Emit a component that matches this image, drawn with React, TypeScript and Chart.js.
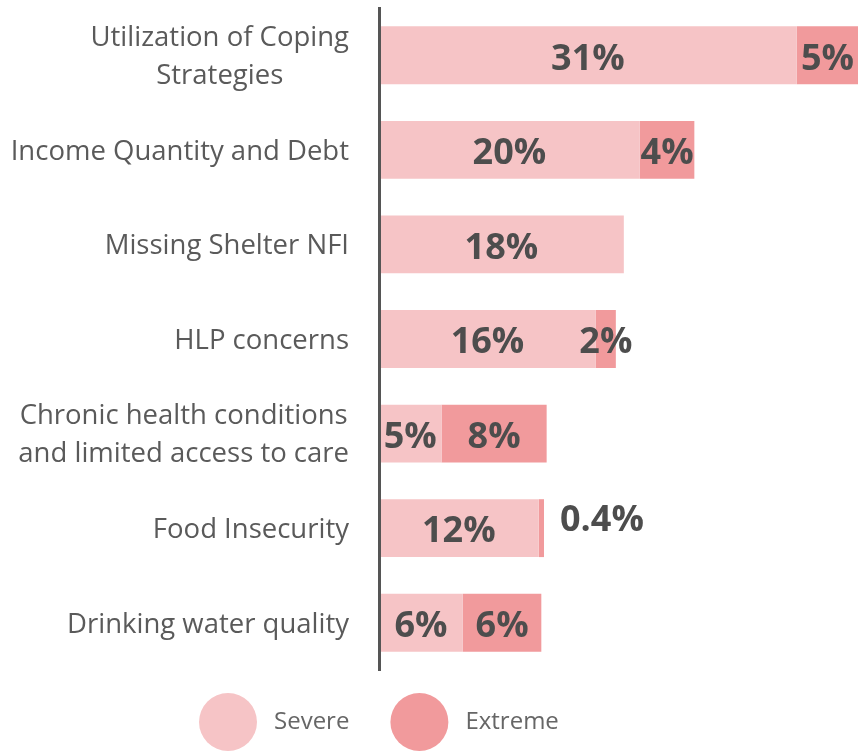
import React, { useEffect, useRef } from "react";
import { Chart, registerables } from "chart.js";

Chart.register(...registerables);

const categories: string[][] = [
  ["Utilization of Coping", "Strategies"],
  ["Income Quantity and Debt"],
  ["Missing Shelter NFI"],
  ["HLP concerns"],
  ["Chronic health conditions", "and limited access to care"],
  ["Food Insecurity"],
  ["Drinking water quality"],
];
const severe = [31.4, 19.6, 18.4, 16.3, 4.7, 12.0, 6.3];
const extreme = [4.6, 4.1, 0, 1.5, 7.9, 0.4, 5.9];
const seriesNames = ["Severe", "Extreme"];
const seriesColors = ["#F6C4C6", "#F19A9C"];
const xMax = 36;

const FONT = "'Open Sans', 'Noto Sans', sans-serif";

function fmt(v: number): string {
  if (v < 1) return v.toFixed(1) + "%";
  return Math.round(v) + "%";
}

const customPlugin = {
  id: "customDraw",
  afterDraw(chart: any) {
    const ctx: CanvasRenderingContext2D = chart.ctx;
    // value labels
    chart.data.datasets.forEach((ds: any, di: number) => {
      const meta = chart.getDatasetMeta(di);
      meta.data.forEach((bar: any, i: number) => {
        const v = ds.data[i];
        if (!v) return;
        const { x, y, base } = bar.getProps(["x", "y", "base"], true);
        const text = fmt(v);
        ctx.save();
        ctx.font = `bold 36px ${FONT}`;
        ctx.fillStyle = "#4d4d4d";
        ctx.textBaseline = "middle";
        if (v < 1) {
          ctx.textAlign = "left";
          ctx.fillText(text, x + 16, y - 7);
        } else {
          ctx.textAlign = "center";
          ctx.fillText(text, (x + base) / 2, y + 4);
        }
        ctx.restore();
      });
    });
    // category labels
    const yScale = chart.scales.y;
    ctx.save();
    ctx.font = `27.5px ${FONT}`;
    ctx.fillStyle = "#5a5a5a";
    ctx.textBaseline = "middle";
    ctx.textAlign = "center";
    const right = chart.chartArea.left - 30;
    categories.forEach((lines, i) => {
      const cy = yScale.getPixelForValue(i) + 2;
      const maxW = Math.max(...lines.map((l) => ctx.measureText(l).width));
      const cx = right - maxW / 2;
      lines.forEach((l, j) => {
        ctx.fillText(l, cx, cy + (j - (lines.length - 1) / 2) * 38);
      });
    });
    ctx.restore();
    // legend
    ctx.save();
    ctx.font = `24px ${FONT}`;
    ctx.textBaseline = "middle";
    ctx.textAlign = "left";
    let lx = 199;
    const ly = 722;
    const r = 29;
    seriesNames.forEach((name, i) => {
      ctx.fillStyle = seriesColors[i];
      ctx.beginPath();
      ctx.arc(lx + r, ly, r, 0, Math.PI * 2);
      ctx.fill();
      ctx.fillStyle = "#666666";
      const tx = lx + 2 * r + 17;
      ctx.fillText(name, tx, ly);
      lx = tx + ctx.measureText(name).width + 41;
    });
    ctx.restore();
  },
};

export default function App() {
  const ref = useRef<HTMLCanvasElement | null>(null);
  useEffect(() => {
    if (!ref.current) return;
    const chart = new Chart(ref.current, {
      type: "bar",
      data: {
        labels: categories.map((c) => c.join(" ")),
        datasets: [
          { label: seriesNames[0], data: severe, backgroundColor: seriesColors[0], borderWidth: 0 },
          { label: seriesNames[1], data: extreme, backgroundColor: seriesColors[1], borderWidth: 0 },
        ],
      },
      options: {
        animation: false,
        responsive: false,
        indexAxis: "y",
        layout: { padding: { top: 8, bottom: 85, left: 0, right: 0 } },
        datasets: { bar: { barPercentage: 0.612, categoryPercentage: 1 } },
        plugins: { legend: { display: false }, tooltip: { enabled: false } },
        scales: {
          x: { stacked: true, min: 0, max: xMax, display: false },
          y: {
            stacked: true,
            grid: { display: false },
            ticks: { display: false },
            border: { display: true, color: "#555555", width: 3, z: 1 },
            afterFit: (scale: any) => {
              scale.width = 379;
            },
          },
        },
      } as any,
      plugins: [customPlugin],
    });
    return () => chart.destroy();
  }, []);
  return (
    <div style={{ position: "absolute", left: 0, top: 0, width: 858, height: 755, background: "#fff" }}>
      <canvas ref={ref} width={858} height={755} />
    </div>
  );
}
